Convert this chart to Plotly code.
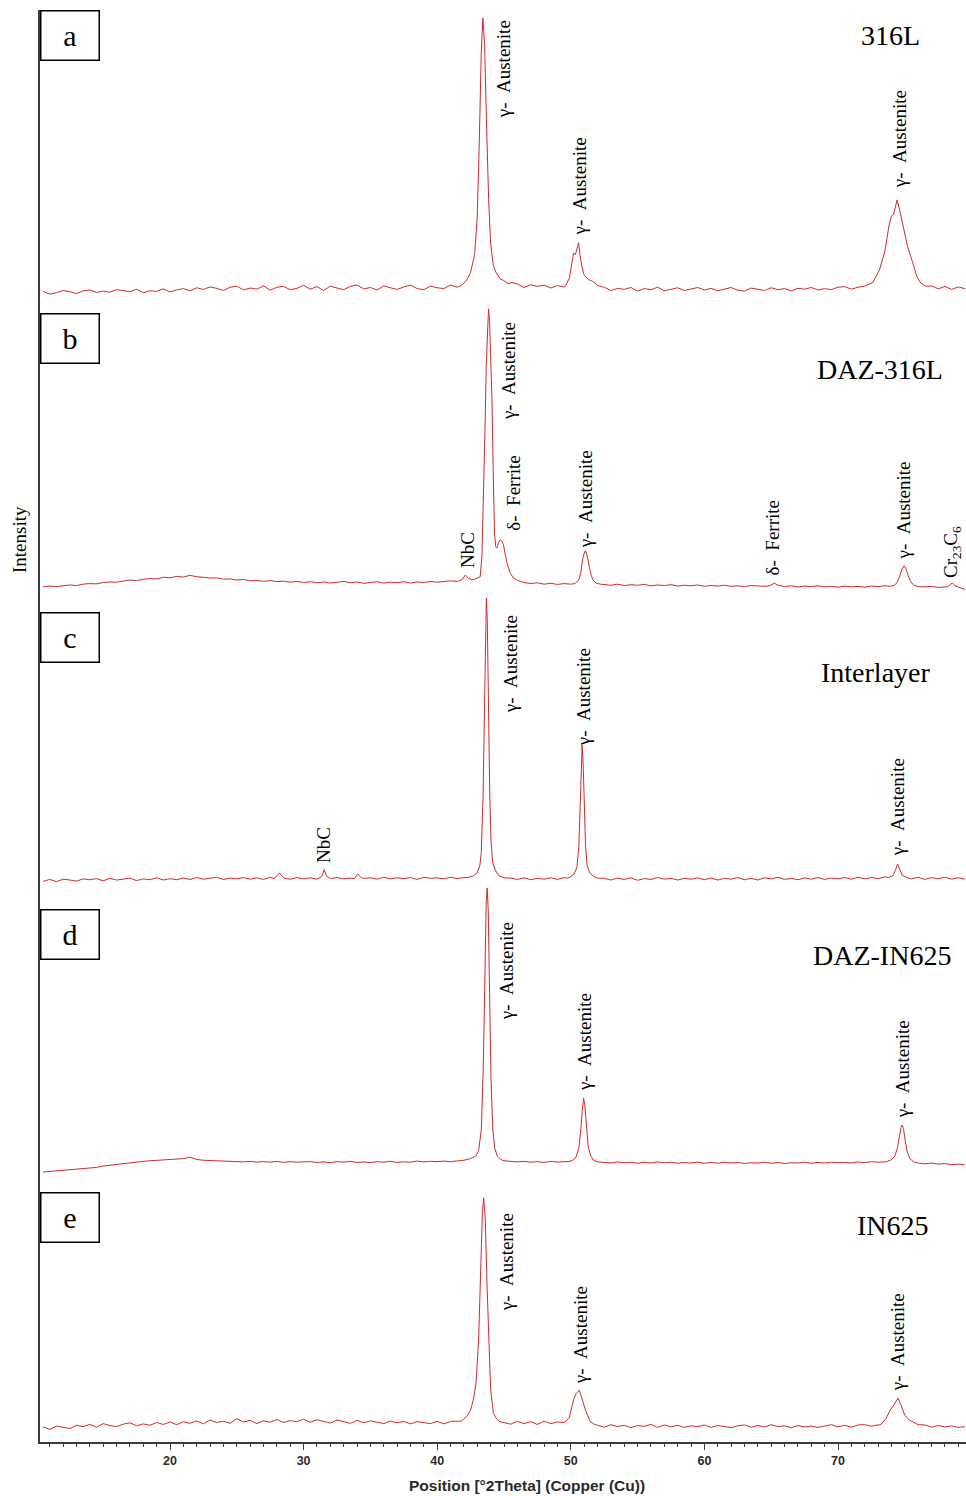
import plotly.graph_objects as go

# ---------------------------------------------------------------
# XRD patterns (Cu K-alpha), intensity in arbitrary units.
# Each pattern: a coarse 0.5 deg scan of the background (None where
# a finer peak scan takes over) plus finer point lists around peaks.
# ---------------------------------------------------------------
two_theta_grid = [10.5 + 0.5 * i for i in range(139)]
N = None

# --- a : 316L ---------------------------------------------------
a_base = [
    0.6, -0.4, 0.1, 0.9, 0.5, -0.2, 0.8, 1.1, 0.2, 0.7, 0.3, 1.2, 0.9, 0.4, 1.4, 0.1, 0.8, 0.6, 1.5, 0.4,
    1.1, 1.6, 0.8, 1.9, 1.3, 2.2, 1.7, 0.9, 2.1, 2.5, 1.1, 1.8, 1.4, 2.6, 1.0, 2.1, 2.4, 1.2, 1.7, 2.8,
    1.4, 2.3, 0.9, 2.5, 1.8, 1.2, 2.4, 2.9, 1.5, 2.0, 1.1, 2.6, 1.9, 1.3, 2.2, 2.9, 1.6, 1.2, 2.5, 1.9,
    1.6, 2.9, 2.1, N, N, N, N, N, N, N, N, 3.3, 2.0, 3.0, 2.4, 2.9, 1.8, 2.7, 2.2, N,
    N, N, N, N, 2.1, 0.9, 1.7, 1.3, 2.0, 0.7, 1.6, 1.2, 2.1, 0.8, 1.4, 1.9, 0.9, 1.5, 2.0, 1.1,
    1.7, 0.8, 1.4, 2.0, 1.0, 0.7, 1.8, 1.3, 0.9, 1.9, 1.2, 1.6, 0.8, 1.7, 1.4, 2.0, 1.1, 1.6, 1.2, 2.1,
    2.3, 1.4, 2.1, N, N, N, N, N, N, N, N, N, N, 2.6, 1.5, 2.4, 1.3, 2.2, 1.6,
]
a_peak_x = [
    [41.8, 42.2, 42.5, 42.8, 43.0, 43.15, 43.3, 43.42, 43.55, 43.7, 43.85, 44.0, 44.2, 44.4, 44.7, 45.0, 45.3, 45.6],
    [49.6, 49.9, 50.1, 50.2, 50.35, 50.48, 50.58, 50.7, 50.83, 51.0, 51.3, 51.68, 52.0, 52.3],
    [72.0, 72.6, 73.1, 73.5, 73.8, 74.0, 74.15, 74.3, 74.42, 74.6, 74.9, 75.2, 75.6, 75.9, 76.2, 76.6],
]
a_peak_i = [
    [2.8, 4.5, 7.5, 14, 28, 55, 88, 100, 90, 60, 34, 18, 10, 7.5, 5.2, 4.5, 3.4, 3.8],
    [2.5, 5.5, 11, 14.5, 14, 16, 18.3, 13.5, 9.6, 6.5, 5, 4.1, 2.8, 2.3],
    [2.5, 3.8, 8.4, 15, 24, 28, 28.5, 32, 33.8, 30.5, 24, 17, 10.9, 6, 3.6, 2.4],
]

# --- b : DAZ-316L -----------------------------------------------
b_base = [
    0.4, 0.7, 0.5, 0.9, 1.1, 0.9, 1.4, 1.6, 1.5, 2.0, 2.2, 2.1, 2.6, 2.9, 2.7, 3.2, 3.4, 3.3, 3.9, 3.7,
    4.2, 4.0, 4.6, 4.1, 3.9, 3.6, 3.7, 3.2, 3.3, 2.9, 3.1, 2.6, 2.8, 2.4, 2.7, 2.3, 2.5, 2.1, 2.4, 2.0,
    2.3, 1.9, 2.2, 1.8, 2.1, 2.4, 1.9, 2.2, 1.7, 2.0, 2.3, 1.8, 2.1, 1.9, 2.3, 1.8, 2.2, 2.0, 2.4, 2.1,
    2.3, 2.6, 2.4, N, N, N, N, N, N, N, N, N, 2.0, 1.6, 1.9, 1.4, 1.7, 1.3, 1.6, 1.4,
    N, N, N, N, 1.3, 1.0, 1.4, 0.9, 1.2, 1.0, 1.3, 0.8, 1.1, 0.9, 1.2, 0.7, 1.0, 0.8, 1.1, 0.6,
    0.9, 0.7, 1.0, 0.6, 0.8, 0.5, 0.9, 0.7, 0.6, N, N, 0.5, 0.8, 0.4, 0.7, 0.5, 0.8, 0.4, 0.6, 0.3,
    0.7, 0.4, 0.6, 0.3, 0.7, 0.5, 0.8, N, N, N, N, N, 0.4, 0.6, 0.2, 0.5, N, N, -0.5,
]
b_peak_x = [
    [41.6, 41.9, 42.1, 42.35, 42.7, 43.0, 43.22, 43.35, 43.47, 43.58,
     43.67, 43.76, 43.84, 43.92, 44.02, 44.1, 44.2, 44.29, 44.38, 44.47,
     44.6, 44.72, 44.85, 44.97, 45.1, 45.22, 45.45, 45.72, 46.0, 46.4],
    [50.3, 50.6, 50.75, 50.84, 50.95, 51.09, 51.2, 51.33, 51.5, 51.66, 51.9, 52.2],
    [64.6, 64.9, 65.1, 65.25, 65.45, 65.9],
    [73.9, 74.2, 74.4, 74.6, 74.78, 74.93, 75.08, 75.25, 75.45, 75.65, 76.0],
    [78.1, 78.35, 78.55, 78.75, 79.0],
]
b_peak_i = [
    [2.5, 3.2, 4.7, 3.4, 3.0, 3.6, 4.1, 12, 32, 58,
     80.5, 95, 101.5, 97, 82, 68.4, 40, 20, 15, 14.5,
     16.5, 17.5, 17, 15.6, 12, 9.1, 5.5, 3.6, 2.8, 2.2],
    [1.6, 2.9, 5.5, 9.1, 12, 13.6, 12.2, 9.1, 5, 2.9, 1.8, 1.4],
    [0.6, 0.9, 1.5, 1.8, 1.1, 0.5],
    [0.6, 1.0, 1.8, 4, 6.8, 8.1, 7.2, 4.5, 2.3, 1.1, 0.5],
    [0.4, 0.9, 1.9, 0.9, 0.3],
]

# --- c : Interlayer ---------------------------------------------
c_base = [
    -0.5, 0.2, -0.6, 0.3, 0.0, -0.4, 0.4, 0.1, 0.5, -0.3, 0.6, 0.0, 0.3, 0.7, -0.2, 0.4, 0.1, 0.8, 0.0, 0.5,
    0.1, 0.7, 0.2, 0.9, 0.3, 0.6, 1.0, 0.2, 0.7, 0.4, 0.9, 0.3, 0.8, 0.2, 1.0, N, N, 0.3, 0.9, 0.4,
    0.8, 0.3, N, N, 0.9, 0.4, 0.7, N, N, 0.8, 0.3, 1.0, 0.4, 0.8, 0.5, 0.9, 0.2, 1.0, 0.6, 0.8,
    0.4, 1.0, 0.5, 0.9, N, N, N, N, N, N, 0.7, 0.2, 0.8, 0.1, 0.6, 0.3, 0.8, 0.2, 0.9, N,
    N, N, N, N, 0.6, 0.0, 0.7, 0.2, 0.8, -0.1, 0.5, 0.2, 0.9, 0.3, 0.6, 0.0, 0.6, 0.3, 0.8, 0.1,
    0.7, 0.0, 0.6, 0.3, 0.9, 0.1, 0.6, 0.0, 0.8, 0.4, 1.0, 0.2, 0.6, 0.1, 0.8, 0.3, 0.9, 0.2, 0.7, 0.4,
    0.9, 0.3, 1.0, 0.4, 0.9, 0.5, 1.1, N, N, N, 0.4, 1.0, 0.2, 0.9, 0.4, 1.0, 0.3, 0.8, 0.3,
]
c_peak_x = [
    [27.8, 28.0, 28.2, 28.4, 28.6],
    [31.1, 31.35, 31.55, 31.7, 32.0],
    [33.8, 34.05, 34.3, 34.5],
    [42.3, 42.7, 43.0, 43.2, 43.3, 43.43, 43.53, 43.62, 43.68, 43.75, 43.83, 43.93, 44.03, 44.15, 44.35, 44.6, 45.0],
    [49.7, 50.0, 50.25, 50.45, 50.6, 50.7, 50.78, 50.85, 50.92, 51.0, 51.1, 51.22, 51.4, 51.7, 52.0],
    [73.8, 74.1, 74.3, 74.45, 74.6, 74.8, 75.2],
]
c_peak_i = [
    [0.5, 1.4, 2.6, 1.3, 0.6],
    [0.6, 1.2, 3.8, 1.5, 0.5],
    [0.5, 2.2, 0.9, 0.6],
    [0.9, 1.5, 2.6, 5.5, 10, 30, 62, 92, 102.5, 94, 65, 32, 14, 6.5, 3.6, 1.6, 0.8],
    [0.6, 1.2, 2.2, 4.5, 12, 27, 42, 49, 43, 28, 13, 5.5, 2.8, 1.3, 0.7],
    [0.9, 1.6, 3.5, 5.8, 3.8, 1.8, 0.8],
]

# --- d : DAZ-IN625 ----------------------------------------------
d_base = [
    -3.3, -3.1, -3.0, -2.7, -2.6, -2.3, -2.1, -1.8, -1.6, -1.1, -0.8, -0.4, -0.1, 0.2, 0.4, 0.6, 0.8, 1.0, 1.1, 1.3,
    1.4, 1.6, 2.1, 1.3, 1.0, 0.9, 0.7, 0.8, 0.5, 0.6, 0.4, 0.6, 0.3, 0.5, 0.3, 0.6, 0.2, 0.5, 0.3, 0.4,
    0.5, 0.2, 0.4, 0.1, 0.5, 0.3, 0.6, 0.2, 0.4, 0.1, 0.5, 0.3, 0.6, 0.2, 0.4, 0.3, 0.7, 0.4, 0.6, 0.5,
    0.7, 0.5, 0.8, N, N, N, N, N, N, N, 0.7, 0.4, 0.6, 0.3, 0.5, 0.2, 0.6, 0.3, 0.5, N,
    N, N, N, N, 0.3, 0.0, 0.4, 0.1, 0.3, -0.1, 0.3, 0.0, 0.4, 0.1, 0.3, -0.1, 0.2, 0.0, 0.3, -0.1,
    0.2, -0.1, 0.3, 0.0, 0.2, -0.2, 0.1, 0.0, 0.3, -0.1, 0.2, -0.2, 0.1, 0.0, 0.3, -0.1, 0.2, 0.0, 0.3, 0.1,
    0.2, 0.0, 0.4, 0.1, 0.5, 0.3, 0.4, N, N, N, N, N, -0.3, 0.0, -0.4, -0.2, -0.6, -0.4, -0.7,
]
d_peak_x = [
    [42.0, 42.5, 42.9, 43.1, 43.3, 43.45, 43.57, 43.67, 43.74, 43.82, 43.92, 44.02, 44.15, 44.3, 44.5, 44.75, 45.0],
    [49.8, 50.15, 50.4, 50.6, 50.75, 50.87, 50.96, 51.05, 51.17, 51.3, 51.5, 51.7, 52.0],
    [73.6, 74.0, 74.25, 74.45, 74.6, 74.72, 74.8, 74.9, 75.02, 75.18, 75.4, 75.7, 76.0],
]
d_peak_i = [
    [1.0, 1.6, 2.6, 4.5, 12, 35, 70, 95, 100, 92, 62, 32, 13, 5.5, 2.5, 1.3, 0.8],
    [0.5, 1.0, 2.2, 5.5, 12, 20, 23.6, 21, 13, 6, 2.5, 1.0, 0.4],
    [0.4, 1.2, 2.5, 5.5, 10, 13, 13.8, 12.5, 8.5, 4, 1.5, 0.3, 0.0],
]

# --- e : IN625 --------------------------------------------------
e_base = [
    0.4, -0.5, 0.7, 0.2, -0.2, 1.0, 0.5, 1.3, 0.3, 1.6, 0.9, 0.5, 1.4, 1.9, 0.8, 1.5, 1.0, 2.0, 1.3, 2.2,
    1.2, 2.3, 1.7, 2.6, 1.5, 2.9, 2.0, 2.5, 1.7, 3.4, 2.2, 2.8, 1.6, 2.6, 2.1, 3.1, 2.0, 2.7, 2.3, 3.2,
    2.1, 3.0, 2.4, 1.8, 2.9, 2.3, 1.7, 2.8, 1.9, 2.6, 2.1, 1.6, 2.5, 1.9, 2.4, 1.5, 2.3, 2.0, 1.6, 2.4,
    1.5, 2.4, 2.6, N, N, N, N, N, N, N, 1.4, 2.4, 1.6, 2.3, 1.3, 2.5, 1.6, 2.2, 2.0, N,
    N, N, N, N, 0.3, 1.2, 0.5, 1.0, 0.1, 0.9, 0.6, 1.3, 0.2, 1.1, 0.4, 1.0, 0.2, 0.8, 0.5, 1.1,
    0.2, 0.9, 0.5, 0.1, 0.8, 1.1, 0.3, 0.9, 0.4, 1.2, 0.5, 0.8, 0.1, 0.9, 0.4, 0.7, 0.2, 0.8, 1.2, 0.4,
    1.0, 0.3, 1.1, 1.2, 0.6, N, N, N, N, N, N, N, 1.1, 0.3, 0.9, 0.4, 0.8, 0.2, 0.5,
]
e_peak_x = [
    [41.8, 42.2, 42.5, 42.7, 42.9, 43.1, 43.25, 43.38, 43.48, 43.6, 43.73, 43.88, 44.0, 44.2, 44.45, 44.7, 45.0],
    [49.6, 49.9, 50.2, 50.4, 50.64, 50.8, 51.1, 51.46, 51.7, 52.0],
    [72.8, 73.2, 73.6, 73.9, 74.2, 74.48, 74.7, 75.0, 75.3, 75.6, 76.0],
]
e_peak_i = [
    [2.5, 4.1, 6.5, 10.2, 16, 32, 58, 78, 83.6, 76, 52, 28, 14, 5.5, 3.3, 2.3, 1.9],
    [2.3, 4.0, 10.2, 12.5, 13.8, 11, 6.5, 2.3, 1.5, 1.0],
    [1.0, 1.2, 3.5, 6.5, 8.5, 10.9, 8.5, 4.7, 3.0, 2.3, 1.2],
]

sample_names = ["316L", "DAZ-316L", "Interlayer", "DAZ-IN625", "IN625"]
panel_letters = ["a", "b", "c", "d", "e"]

GA = "\u03b3-\u2002Austenite"
DF = "\u03b4-\u2002Ferrite"
# phase labels: (text, 2theta, intensity at the label's lower end)
a_labels = [(GA, 44.94, 62.9), (GA, 50.65, 20.4), (GA, 74.66, 37.5)]
b_labels = [(GA, 45.39, 60.4), (DF, 45.69, 20.0), ("NbC", 42.22, 6.5), (GA, 51.08, 13.8),
            (DF, 65.13, 4.0), (GA, 74.90, 9.8), ("Cr<sub>23</sub>C<sub>6</sub>", 78.53, 2.9)]
c_labels = [(GA, 45.46, 60.0), (GA, 50.93, 48.0), ("NbC", 31.54, 5.5), (GA, 74.43, 8.0)]
d_labels = [(GA, 45.24, 51.3), (GA, 51.08, 25.5), (GA, 74.81, 15.6)]
e_labels = [(GA, 45.16, 41.8), (GA, 50.78, 15.3), (GA, 74.43, 12.7)]

x_ticks = [20, 30, 40, 50, 60, 70]

# ---------------------------------------------------------------
# Layout geometry (page pixels)
# ---------------------------------------------------------------
W, H = 966, 1496
PLOT_L, PLOT_R, PLOT_T, PLOT_B = 40, 966, 10, 1442
PX_PER_UNIT = 2.75
panel_px = [(10, 302), (302, 595), (595, 886), (886, 1185), (1185, 1442)]
zero_px = [293, 588, 880, 1163, 1428]
letter_box_top = [10, 313, 612, 909, 1192]
name_pos = [(890, 35), (880, 369), (875, 672), (882, 955), (893, 1225)]


def py(p):
    return (PLOT_B - p) / (PLOT_B - PLOT_T)


def px(p):
    return (p - PLOT_L) / (PLOT_R - PLOT_L)


def merge(base, peak_x, peak_i):
    windows = [(min(xs), max(xs)) for xs in peak_x]
    pts = []
    for x, v in zip(two_theta_grid, base):
        if v is None or any(lo <= x <= hi for lo, hi in windows):
            continue
        pts.append((x, v))
    for xs, vs in zip(peak_x, peak_i):
        pts.extend(zip(xs, vs))
    pts.sort()
    return [p[0] for p in pts], [p[1] for p in pts]


patterns = [
    (a_base, a_peak_x, a_peak_i, a_labels),
    (b_base, b_peak_x, b_peak_i, b_labels),
    (c_base, c_peak_x, c_peak_i, c_labels),
    (d_base, d_peak_x, d_peak_i, d_labels),
    (e_base, e_peak_x, e_peak_i, e_labels),
]

AXIS_COLOR = "#3a3a3a"
LINE_COLOR = "#d42a2a"
SERIF = "Liberation Serif"

fig = go.Figure()
annotations = []
layout_axes = {}

for k, (base, pk_x, pk_i, labels) in enumerate(patterns):
    yname = "y" if k == 0 else f"y{k + 1}"
    ykey = "yaxis" if k == 0 else f"yaxis{k + 1}"
    xs, ys = merge(base, pk_x, pk_i)
    fig.add_trace(go.Scatter(
        x=xs, y=ys, mode="lines", xaxis="x", yaxis=yname,
        line=dict(color=LINE_COLOR, width=1), showlegend=False,
        hoverinfo="x+y",
    ))
    top_px, bot_px = panel_px[k]
    z = zero_px[k]
    layout_axes[ykey] = dict(
        domain=[py(bot_px), py(top_px)],
        range=[-(bot_px - z) / PX_PER_UNIT, (z - top_px) / PX_PER_UNIT],
        anchor="x", showticklabels=False, ticks="", showgrid=False,
        zeroline=False, showline=True, linecolor=AXIS_COLOR, linewidth=2,
        fixedrange=True,
    )
    for text, tx, ti in labels:
        annotations.append(dict(
            text=text, x=tx, y=ti, xref="x", yref=yname,
            xanchor="center", yanchor="bottom", textangle=-90,
            showarrow=False, font=dict(family=SERIF, size=19, color="black"),
        ))
    # boxed panel letter
    annotations.append(dict(
        text=panel_letters[k], x=0, y=py(letter_box_top[k]), xref="paper", yref="paper",
        xanchor="left", yanchor="top", showarrow=False,
        width=57, height=48, borderpad=0, borderwidth=1.5, bordercolor="black",
        bgcolor="white", font=dict(family=SERIF, size=30, color="black"),
    ))
    # sample name
    nx, ny = name_pos[k]
    annotations.append(dict(
        text=sample_names[k], x=px(nx), y=py(ny), xref="paper", yref="paper",
        xanchor="center", yanchor="middle", showarrow=False,
        font=dict(family=SERIF, size=28, color="black"),
    ))

annotations.append(dict(
    text="Intensity", x=px(20), y=py(540), xref="paper", yref="paper",
    xanchor="center", yanchor="middle", textangle=-90, showarrow=False,
    font=dict(family=SERIF, size=19, color="black"),
))
annotations.append(dict(
    text="Position [\u00b02Theta] (Copper (Cu))", x=px(527), y=py(1485),
    xref="paper", yref="paper", xanchor="center", yanchor="middle", showarrow=False,
    font=dict(family="Liberation Sans", size=15.5, color="#2a2a2a", weight="bold"),
))

fig.update_layout(
    width=W, height=H,
    margin=dict(l=PLOT_L, r=W - PLOT_R, t=PLOT_T, b=H - PLOT_B),
    paper_bgcolor="white", plot_bgcolor="white",
    xaxis=dict(
        domain=[0, 1], range=[10.27, 79.58], anchor="y5",
        tickvals=x_ticks, ticks="outside", ticklen=6, tickwidth=1, tickcolor=AXIS_COLOR,
        minor=dict(dtick=1, tick0=0, ticks="outside", ticklen=3, tickwidth=1, tickcolor=AXIS_COLOR),
        showline=True, linecolor=AXIS_COLOR, linewidth=2,
        showgrid=False, zeroline=False,
        tickfont=dict(family="Liberation Sans", size=12.5, color="#2a2a2a", weight="bold"),
        fixedrange=True,
    ),
    annotations=annotations,
    **layout_axes,
)

fig.write_html("out.html")
